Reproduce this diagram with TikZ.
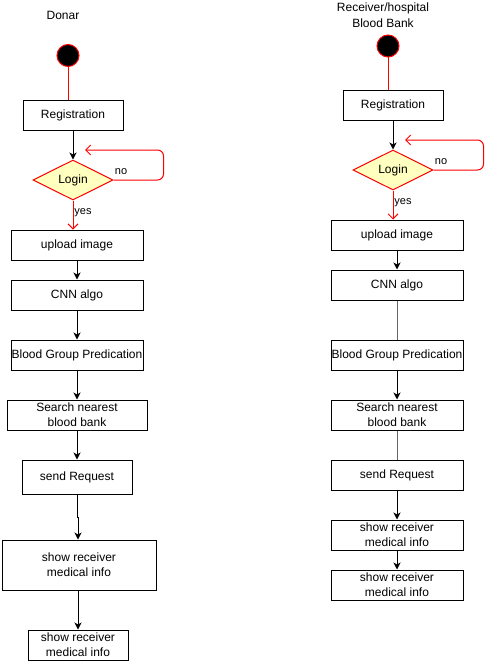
\documentclass[tikz,border=0pt]{standalone}
\usepackage{fontspec}
\setmainfont{Liberation Sans}
\usetikzlibrary{shapes.geometric,arrows.meta}

\definecolor{notey}{HTML}{FFFFC0}
\tikzset{
	act/.style={draw, line width=1pt, inner sep=0pt, align=center,
		minimum width=#1, minimum height=30pt,
		font=\fontsize{12}{15}\selectfont},
	act/.default=132pt,
	dec/.style={draw=red, fill=notey, line width=1pt, diamond, aspect=2,
		inner sep=0pt, minimum width=80pt, minimum height=40pt,
		font=\fontsize{12}{14}\selectfont},
	start/.style={circle, draw=red, fill=black, line width=1pt,
		minimum size=22pt, inner sep=0pt},
	flow/.style={line width=1pt, -{Stealth[length=7pt,width=7pt,inset=2pt]}},
	redflow/.style={red, line width=1pt, -{Straight Barb[length=5pt,width=10pt]}},
	lbl/.style={font=\fontsize{11}{13}\selectfont, inner sep=0pt}
}

\begin{document}
\begin{tikzpicture}[x=1pt, y=-1pt]
	\useasboundingbox (0,0) rectangle (494,661);

	% donar side
	\node[font=\fontsize{12}{15}\selectfont] (d-title) at (63,15) {Donar};
	\node[start] (d-start) at (68,55.5) {};
	\node[act=100pt] (d-reg) at (73,115) {Registration};
	\node[dec] (d-login) at (73,180) {Login};
	\coordinate (d-back) at (85,150);
	\node[act] (d-upload) at (77,245) {upload image};
	\node[act] (d-cnn) at (77,295) {CNN algo};
	\node[act] (d-pred) at (77,355) {Blood Group Predication};
	\node[act=140pt] (d-search) at (77,415) {Search nearest\\blood bank};
	\node[act=110pt, minimum height=34pt] (d-send) at (77,477) {send Request};
	\node[act=154pt, minimum height=50pt] (d-show1) at (79,565) {show receiver\\medical info};
	\node[act=100pt] (d-show2) at (78,645) {show receiver\\medical info};

	\draw[red, line width=1pt] (d-start) -- (d-start |- d-reg.north);
	\draw[flow] (d-reg) -- (d-login);
	\draw[redflow, rounded corners=6pt] (d-login.east) -- ++(50,0) |- (d-back);
	\node[lbl] at (121,172) {no};
	\draw[redflow] (d-login.south) -- (d-login.south |- d-upload.north);
	\node[lbl] at (83,213) {yes};
	\draw[flow] (d-upload) -- (d-cnn);
	\draw[flow] (d-cnn) -- (d-pred);
	\draw[flow] (d-pred) -- (d-search);
	\draw[flow] (d-search) -- (d-send);
	\draw[flow] (d-send.south) -- ++(0,23) -- ++(1,0) -- (d-show1.north -| 78,0);
	\draw[flow] (d-show1.south -| d-show2) -- (d-show2);

	% receiver side
	\node[font=\fontsize{12}{16}\selectfont, align=center] (r-title) at (383,15) {Receiver/hospital\\Blood Bank};
	\node[start] (r-start) at (388,46) {};
	\node[act=100pt] (r-reg) at (393,105) {Registration};
	\node[dec] (r-login) at (393,170) {Login};
	\coordinate (r-back) at (405,140);
	\node[act] (r-upload) at (397,235) {upload image};
	\node[act] (r-cnn) at (397,285) {CNN algo};
	\node[act] (r-pred) at (397,355) {Blood Group Predication};
	\node[act] (r-search) at (397,415) {Search nearest\\blood bank};
	\node[act] (r-send) at (397,475) {send Request};
	\node[act] (r-show1) at (397,535) {show receiver\\medical info};
	\node[act] (r-show2) at (397,585) {show receiver\\medical info};

	\draw[red, line width=1pt] (r-start) -- (r-start |- r-reg.north);
	\draw[flow] (r-reg) -- (r-login);
	\draw[redflow, rounded corners=6pt] (r-login.east) -- ++(50,0) |- (r-back);
	\node[lbl] at (441,162) {no};
	\draw[redflow] (r-login.south) -- (r-login.south |- r-upload.north);
	\node[lbl] at (403,203) {yes};
	\draw[flow] (r-upload) -- (r-cnn);
	\draw[line width=1pt, black!60] (r-cnn) -- (r-pred);
	\draw[flow] (r-pred) -- (r-search);
	\draw[line width=1pt, black!60] (r-search) -- (r-send);
	\draw[flow] (r-send) -- (r-show1);
	\draw[flow] (r-show1) -- (r-show2);
\end{tikzpicture}
\end{document}
